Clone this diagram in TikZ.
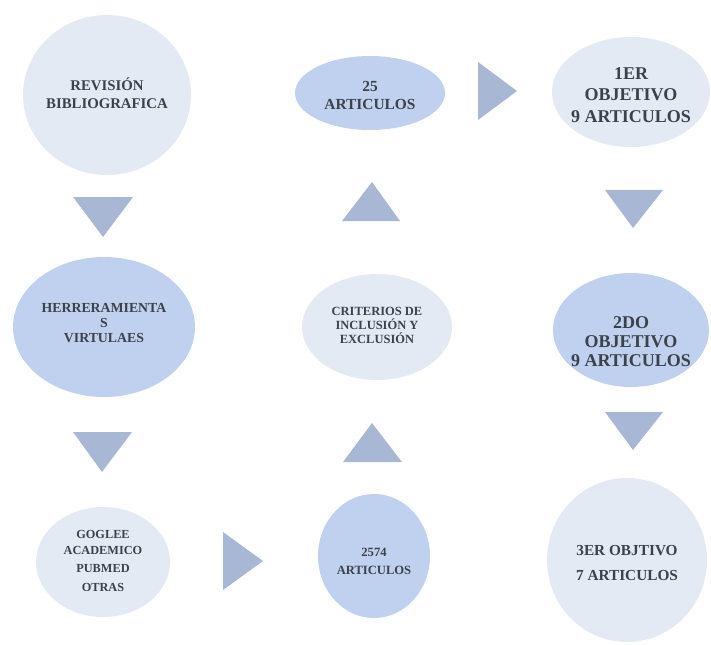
\documentclass[tikz,border=0pt]{standalone}
\usepackage{fontspec}
\setmainfont{Liberation Serif}
\definecolor{lightfill}{HTML}{E4EAF4}
\definecolor{midfill}{HTML}{BFD1EE}
\definecolor{trifill}{HTML}{A8B7D4}
\definecolor{txt}{HTML}{3C424C}
\usetikzlibrary{shapes.geometric}
\tikzset{
  bubble/.style={inner sep=0pt, align=center, text=txt},
  fs/.style 2 args={font=\bfseries\fontsize{#1bp}{#2bp}\selectfont},
  tri/.style={fill=trifill, draw=none},
}
\begin{document}
\begin{tikzpicture}[x=1bp,y=-1bp]
\useasboundingbox (0,0) rectangle (711,645);
% nodes
\fill[lightfill] (107,95) ellipse [x radius=84bp, y radius=80bp];
\node[bubble, fs={14.8}{18.5}] (rev) at (107,93) {REVISIÓN\\BIBLIOGRAFICA};
\fill[midfill] (104,327) ellipse [x radius=91bp, y radius=70bp];
\node[bubble, fs={13.8}{15}] (herr) at (104,323) {HERRERAMIENTA\\S\\VIRTULAES};
\fill[lightfill] (103,562) ellipse [x radius=67bp, y radius=55bp];
\node[bubble, fs={12.3}{18.5}] (gog) at (103,561) {GOGLEE\\[-3bp]ACADEMICO\\PUBMED\\OTRAS};
\fill[midfill] (374,556) ellipse [x radius=56bp, y radius=62bp];
\node[bubble, fs={12.6}{18}] (n2574) at (374,561) {2574\\ARTICULOS};
\fill[lightfill] (377,327) ellipse [x radius=75bp, y radius=53bp];
\node[bubble, fs={12.5}{14}] (crit) at (377,325) {CRITERIOS DE\\INCLUSIÓN Y\\EXCLUSIÓN};
\fill[midfill] (370,93) ellipse [x radius=75bp, y radius=37bp];
\node[bubble, fs={15.4}{18}] (n25) at (370,95) {25\\ARTICULOS};
\fill[lightfill] (631,92) ellipse [x radius=79bp, y radius=55bp];
\node[bubble, fs={18}{21.5}] (obj1) at (631,95) {1ER\\OBJETIVO\\9 ARTICULOS};
\fill[midfill] (631,330) ellipse [x radius=78bp, y radius=57bp];
\node[bubble, fs={18}{19}] (obj2) at (631,342) {2DO\\OBJETIVO\\9 ARTICULOS};
\fill[lightfill] (627,560) ellipse [x radius=80bp, y radius=82bp];
\node[bubble, fs={15.3}{25}] (obj3) at (627,563) {3ER OBJTIVO\\7 ARTICULOS};
% arrows (triangles)
\fill[tri] (73,197) -- (133,197) -- (103,237) -- cycle;
\fill[tri] (73,432) -- (132,432) -- (102,472) -- cycle;
\fill[tri] (223,532) -- (263,561) -- (223,590) -- cycle;
\fill[tri] (343,462) -- (402,462) -- (372,423) -- cycle;
\fill[tri] (342,221) -- (400,221) -- (372,182) -- cycle;
\fill[tri] (478,62) -- (517,91) -- (478,120) -- cycle;
\fill[tri] (605,190) -- (663,190) -- (633,228) -- cycle;
\fill[tri] (605,412) -- (663,412) -- (633,450) -- cycle;
\end{tikzpicture}
\end{document}
